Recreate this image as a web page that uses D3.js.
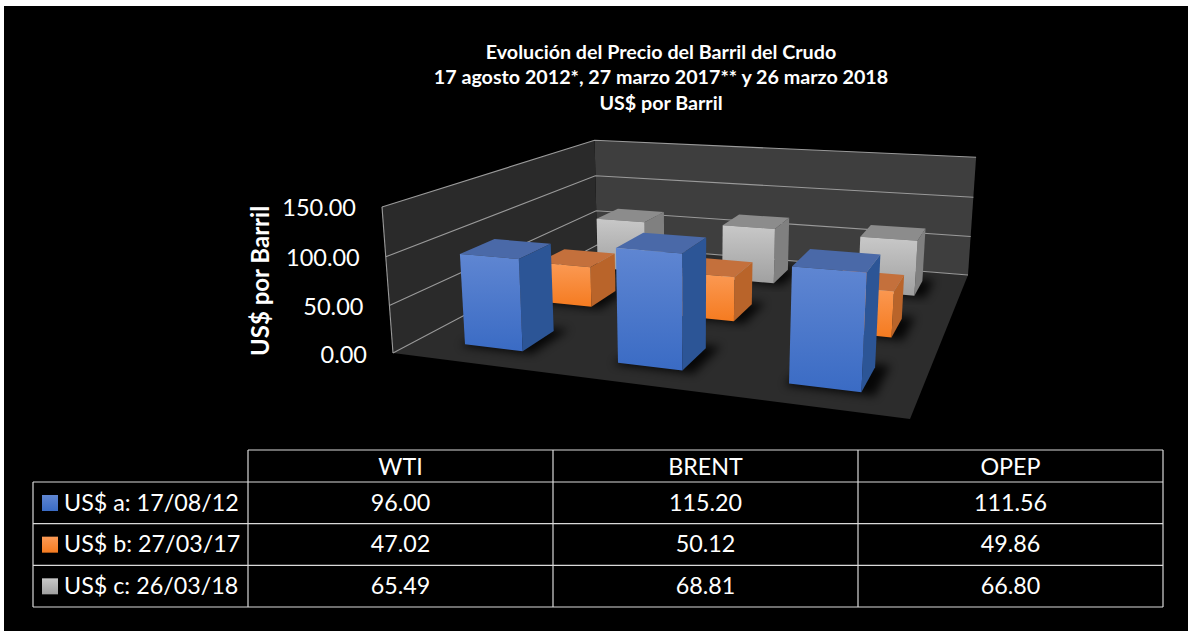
<!DOCTYPE html>
<html><head><meta charset="utf-8">
<script src="https://cdn.jsdelivr.net/npm/d3@7/dist/d3.min.js"></script>
<style>html,body{margin:0;padding:0;background:#fff}svg{display:block}text{font-family:Lato,"Open Sans",sans-serif;fill:#fff}</style>
</head><body><div id="c"></div>
<script>
const titleLines=["Evolución del Precio del Barril del Crudo","17 agosto 2012*, 27 marzo 2017** y 26 marzo 2018","US$ por Barril"];
const yTitle="US$ por Barril";
const categories=["WTI","BRENT","OPEP"];
const seriesNames=["US$ a: 17/08/12","US$ b: 27/03/17","US$ c: 26/03/18"];
const serieA=[96.00,115.20,111.56];
const serieB=[47.02,50.12,49.86];
const serieC=[65.49,68.81,66.80];
const valueTicks=[0,50,100,150];
const allSeries=[serieA,serieB,serieC];
const palette=[
 {top:"#4a69a8",side:"#2c5596",a:"#5f86d2",b:"#3a6bc4"},
 {top:"#c4703c",side:"#b9642a",a:"#fb9a55",b:"#f57b20"},
 {top:"#8c8c8c",side:"#808080",a:"#c8c8c8",b:"#a0a0a0"}];

const W=1188,H=631;
const svg=d3.select("#c").append("svg").attr("width",W).attr("height",H);
const defs=svg.append("defs");
svg.append("rect").attr("x",4).attr("y",6).attr("width",W-4).attr("height",H-6).attr("fill","#000");

// perspective camera: floor corners + vertical vanishing point
const A=[393,353],B=[910,419],C=[968,275],D=[597,245],VP=[690,4300];
function quadH(p0,p1,p2,p3){ // unit square (0,0),(1,0),(1,1),(0,1)
  const dx1=p1[0]-p2[0],dx2=p3[0]-p2[0],sx=p0[0]-p1[0]+p2[0]-p3[0];
  const dy1=p1[1]-p2[1],dy2=p3[1]-p2[1],sy=p0[1]-p1[1]+p2[1]-p3[1];
  const den=dx1*dy2-dx2*dy1;
  const g=(sx*dy2-dx2*sy)/den,h=(dx1*sy-sx*dy1)/den;
  return [p1[0]-p0[0]+g*p1[0],p3[0]-p0[0]+h*p3[0],p0[0],
          p1[1]-p0[1]+g*p1[1],p3[1]-p0[1]+h*p3[1],p0[1],g,h,1];
}
const M=quadH(A,B,C,D);
const kappa=-0.0357; // height factor at the front-left corner (W=1)
function project(u,v,w){
  const X=M[0]*u+M[1]*v+M[2],Y=M[3]*u+M[4]*v+M[5],Z=M[6]*u+M[7]*v+M[8];
  const k=kappa*w;
  return [(X+k*VP[0])/(Z+k),(Y+k*VP[1])/(Z+k)];
}
const uScale=d3.scaleBand().domain(categories).range([0.004,1.004]).paddingInner(0.61).paddingOuter(0.305);
const vScale=d3.scaleBand().domain(seriesNames).range([0,1]).paddingInner(0.58).paddingOuter(0.29);
const hScale=d3.scaleLinear().domain([0,150]).range([0,1]);
const poly=pts=>pts.map(p=>p.map(n=>n.toFixed(1)).join(",")).join(" ");

const g3=svg.append("g");
g3.append("polygon").attr("points",poly([project(0,1,0),project(1,1,0),project(1,1,1),project(0,1,1)])).attr("fill","#3e3e3e");
g3.append("polygon").attr("points",poly([project(0,0,0),project(0,1,0),project(0,1,1),project(0,0,1)])).attr("fill","#2a2a2a");
g3.append("polygon").attr("points",poly([project(0,0,0),project(1,0,0),project(1,1,0),project(0,1,0)])).attr("fill","#2c2c2c");
valueTicks.forEach(t=>{
  const w=hScale(t);
  g3.append("polyline").attr("points",poly([project(0,0,w),project(0,1,w),project(1,1,w)]))
    .attr("fill","none").attr("stroke","#9a9a9a").attr("stroke-width",1.1);
});
g3.append("line").datum([project(0,0,0),project(0,0,1)]).attr("x1",d=>d[0][0]).attr("y1",d=>d[0][1]).attr("x2",d=>d[1][0]).attr("y2",d=>d[1][1]).attr("stroke","#9a9a9a").attr("stroke-width",1.1);

const blur=defs.append("filter").attr("id","soft").attr("x","-30%").attr("y","-30%").attr("width","160%").attr("height","160%");
blur.append("feGaussianBlur").attr("stdDeviation",5);
palette.forEach((c,i)=>{
  const lg=defs.append("linearGradient").attr("id","f"+i).attr("x1",0).attr("y1",0).attr("x2",0).attr("y2",1);
  lg.append("stop").attr("offset",0).attr("stop-color",c.a);
  lg.append("stop").attr("offset",1).attr("stop-color",c.b);
});
// draw rows from back to front; first series sits nearest the viewer
[2,1,0].forEach(si=>{
  const v0=vScale(seriesNames[si]);
  const v1=v0+vScale.bandwidth();
  categories.forEach((cat,ci)=>{
    const u0=uScale(cat),u1=u0+uScale.bandwidth();
    const w=hScale(allSeries[si][ci]);
    const c=palette[si];
    g3.append("polygon").attr("filter","url(#soft)").attr("fill","#000").attr("opacity",0.85)
      .attr("points",poly([project(u0-.005,v0-.01,0),project(u1+.025,v0-.01,0),project(u1+.025,v1+.02,0),project(u0,v1,0)]));
    g3.append("polygon").attr("fill",c.top).attr("points",poly([project(u0,v0,w),project(u1,v0,w),project(u1,v1,w),project(u0,v1,w)]));
    g3.append("polygon").attr("fill",c.side).attr("points",poly([project(u1,v0,0),project(u1,v1,0),project(u1,v1,w),project(u1,v0,w)]));
    g3.append("polygon").attr("fill",`url(#f${si})`).attr("points",poly([project(u0,v0,0),project(u1,v0,0),project(u1,v0,w),project(u0,v0,w)]));
  });
});

// value axis labels
valueTicks.forEach(t=>{
  const p=project(0,0,hScale(t));
  svg.append("text").attr("x",p[0]-26).attr("y",p[1]+9.5).attr("text-anchor","end").attr("font-size",23.5).text(d3.format(".2f")(t));
});
svg.append("text").attr("transform","translate(269,281) rotate(-90)").attr("text-anchor","middle").attr("font-size",24).attr("font-weight",700).text(yTitle);

// title
titleLines.forEach((t,i)=>svg.append("text").attr("x",661).attr("y",58.5+i*25.5).attr("text-anchor","middle").attr("font-size",19.7).attr("font-weight",700).text(t));

// data table
const colX=d3.scaleBand().domain(categories).range([248,1163]);
const rowY=d3.scaleBand().domain(seriesNames).range([482,607]);
const headTop=450,tableLeft=33;
const tb=svg.append("g");
const ln=(x1,y1,x2,y2)=>tb.append("line").attr("x1",x1).attr("y1",y1).attr("x2",x2).attr("y2",y2).attr("stroke","#d9d9d9").attr("stroke-width",1.2);
ln(248,headTop,1163,headTop);
seriesNames.forEach(s=>ln(tableLeft,rowY(s),1163,rowY(s)));
ln(tableLeft,607,1163,607);
ln(tableLeft,482,tableLeft,607);
categories.forEach(c=>ln(colX(c),headTop,colX(c),607));
ln(1163,headTop,1163,607);
const fs=23.3;
categories.forEach(c=>tb.append("text").attr("x",colX(c)+colX.bandwidth()/2).attr("y",475).attr("text-anchor","middle").attr("font-size",fs).text(c));
seriesNames.forEach((s,si)=>{
  const y=rowY(s);
  tb.append("rect").attr("x",42).attr("y",y+13).attr("width",16).attr("height",16).attr("fill",`url(#f${si})`);
  tb.append("text").attr("x",64).attr("y",y+28.5).attr("font-size",fs).text(s);
  categories.forEach((c,ci)=>tb.append("text").attr("x",colX(c)+colX.bandwidth()/2).attr("y",y+28.5).attr("text-anchor","middle").attr("font-size",fs).text(d3.format(".2f")(allSeries[si][ci])));
});
</script></body></html>
